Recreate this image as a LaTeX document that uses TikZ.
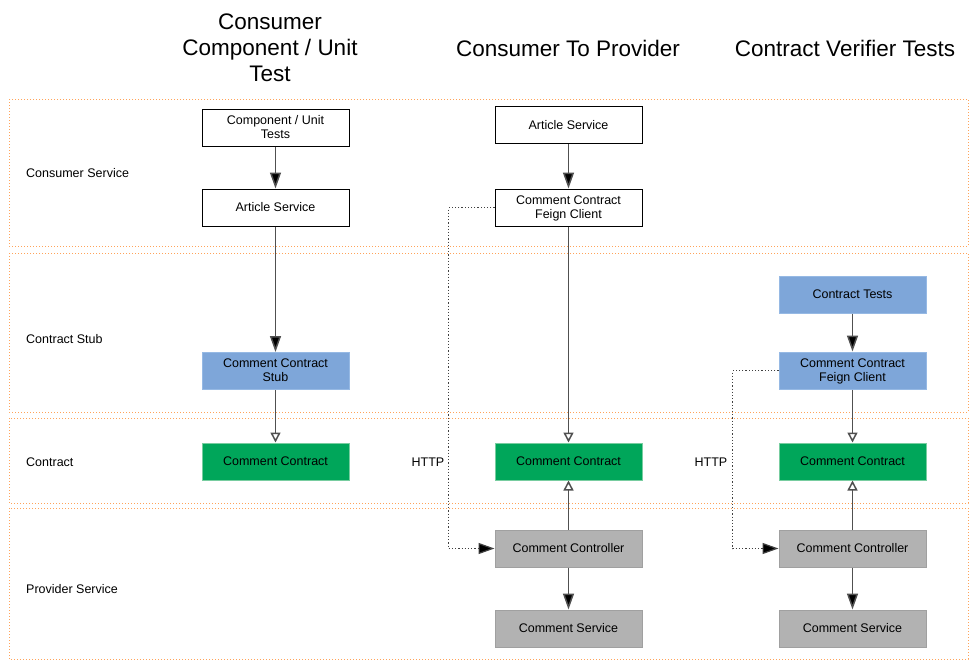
\documentclass[tikz,border=0pt]{standalone}
\usepackage{fontspec}
\setmainfont{Liberation Sans}
\usepackage{tikz}
\usetikzlibrary{arrows.meta}
\definecolor{stubblue}{RGB}{126,166,217}
\definecolor{stubblueline}{RGB}{150,185,228}
\definecolor{contractgreen}{RGB}{0,166,90}
\definecolor{contractgreenline}{RGB}{120,205,160}
\definecolor{providergray}{RGB}{178,178,178}
\definecolor{providergrayline}{RGB}{160,160,160}
\definecolor{laneorange}{RGB}{255,163,90}
\definecolor{flowgray}{RGB}{80,80,80}

\tikzset{
  lane/.style={draw=laneorange,dotted,line width=1pt},
  lanelabel/.style={anchor=west,inner sep=0pt,font=\fontsize{12.5}{14}\selectfont},
  box/.style={minimum width=147pt,minimum height=37pt,align=center,inner sep=1pt,line width=1pt,text depth=1pt,font=\fontsize{12.5}{14}\selectfont},
  plainbox/.style={box,fill=white,draw=black},
  stubbox/.style={box,fill=stubblue,draw=stubblueline},
  contractbox/.style={box,fill=contractgreen,draw=contractgreenline},
  providerbox/.style={box,fill=providergray,draw=providergrayline},
  coltitle/.style={align=center,font=\fontsize{22.5}{26}\selectfont},
  calls/.style={draw=flowgray,line width=1.5pt,-{Triangle[length=16pt,width=11pt,fill=black]}},
  implements/.style={draw=flowgray,line width=1.5pt,-{Triangle[open,length=10pt,width=10pt,fill=white]}},
  http/.style={draw=black!75,dotted,line width=1.2pt,-{Triangle[length=16pt,width=11pt,fill=black]}}
}

\begin{document}
\begin{tikzpicture}[x=1pt,y=-1pt]
\useasboundingbox (0,0) rectangle (978,672);

\draw[lane] (9,99) rectangle (968,246);
\draw[lane] (9,253) rectangle (968,412);
\draw[lane] (9,418) rectangle (968,503);
\draw[lane] (9,508) rectangle (968,659);

\node[lanelabel] (laneConsumer) at (26,173) {Consumer Service};
\node[lanelabel] (laneStub) at (26,339) {Contract Stub};
\node[lanelabel] (laneContract) at (26,462) {Contract};
\node[lanelabel] (laneProvider) at (26,589) {Provider Service};

\node[coltitle] (titleA) at (270,48) {Consumer\\Component / Unit\\Test};
\node[coltitle] (titleB) at (568,48) {Consumer To Provider};
\node[coltitle] (titleC) at (845,48) {Contract Verifier Tests};

\node[plainbox] (compTests) at (275.5,127.5) {Component / Unit\\Tests};
\node[plainbox] (articleA) at (275.5,207.5) {Article Service};
\node[stubbox] (stubA) at (275.5,371) {Comment Contract\\Stub};
\node[contractbox] (contractA) at (275.5,461.5) {Comment Contract};

\node[plainbox] (articleB) at (568.5,125) {Article Service};
\node[plainbox] (feignB) at (568.5,207.5) {Comment Contract\\Feign Client};
\node[contractbox] (contractB) at (568.5,461.5) {Comment Contract};
\node[providerbox] (controllerB) at (568.5,548.5) {Comment Controller};
\node[providerbox] (serviceB) at (568.5,628.5) {Comment Service};
\node (httpB) at (428,462) {\fontsize{12.5}{14}\selectfont HTTP};

\node[stubbox] (testsC) at (852.5,294.5) {Contract Tests};
\node[stubbox] (feignC) at (852.5,370.5) {Comment Contract\\Feign Client};
\node[contractbox] (contractC) at (852.5,461.5) {Comment Contract};
\node[providerbox] (controllerC) at (852.5,548.5) {Comment Controller};
\node[providerbox] (serviceC) at (852.5,628.5) {Comment Service};
\node (httpC) at (711,462) {\fontsize{12.5}{14}\selectfont HTTP};

\draw[calls] (compTests) -- (articleA);
\draw[calls] (articleA) -- (stubA);
\draw[implements] (stubA) -- (contractA);

\draw[calls] (articleB) -- (feignB);
\draw[implements] (feignB) -- (contractB);
\draw[implements] (controllerB) -- (contractB);
\draw[calls] (controllerB) -- (serviceB);
\draw[http] (feignB.west) -- ++(-46,0) |- (controllerB.west);

\draw[calls] (testsC) -- (feignC);
\draw[implements] (feignC) -- (contractC);
\draw[implements] (controllerC) -- (contractC);
\draw[calls] (controllerC) -- (serviceC);
\draw[http] (feignC.west) -- ++(-46,0) |- (controllerC.west);
\end{tikzpicture}
\end{document}
